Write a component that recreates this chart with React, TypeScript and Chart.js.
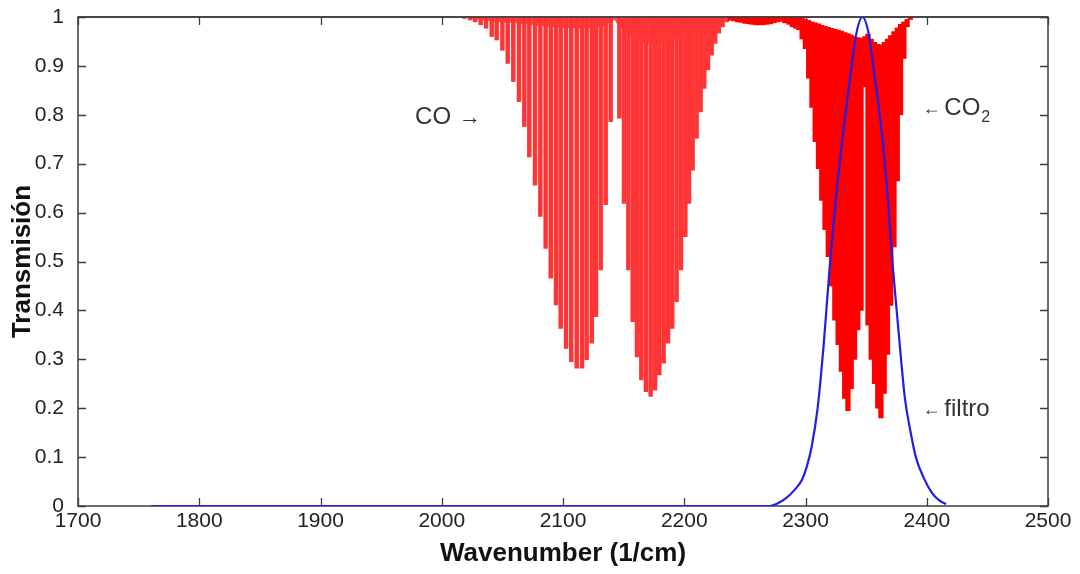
import React, { useEffect, useRef } from 'react';
import { Chart, registerables } from 'chart.js';

Chart.register(...registerables);

// ---- axis ticks ----
const xTickValues = [1700, 1800, 1900, 2000, 2100, 2200, 2300, 2400, 2500];
const xTickLabels = ['1700', '1800', '1900', '2000', '2100', '2200', '2300', '2400', '2500'];
const yTickValues = [0, 0.1, 0.2, 0.3, 0.4, 0.5, 0.6, 0.7, 0.8, 0.9, 1];
const yTickLabels = ['0', '0.1', '0.2', '0.3', '0.4', '0.5', '0.6', '0.7', '0.8', '0.9', '1'];

// ---- CO absorption lines (P branch), position (1/cm) and transmission minimum ----
const coPPos = [2018.6, 2023.3, 2027.4, 2032.1, 2036.5, 2041.2, 2045.3, 2050.0, 2054.4, 2059.0, 2063.7, 2068.1, 2072.2, 2076.9, 2081.3, 2085.7, 2089.9, 2094.2, 2098.1, 2102.5, 2106.8, 2111.3, 2115.7, 2119.5, 2123.7, 2127.2, 2131.1, 2135.2, 2139.3];
const coPMin = [0.997, 0.994, 0.99, 0.984, 0.977, 0.96, 0.953, 0.932, 0.905, 0.868, 0.827, 0.776, 0.714, 0.656, 0.592, 0.527, 0.466, 0.411, 0.363, 0.322, 0.295, 0.282, 0.282, 0.299, 0.333, 0.387, 0.483, 0.616, 0.786];

// ---- CO absorption lines (R branch) ----
const coRPos = [2146.5, 2150.3, 2153.9, 2157.5, 2161.0, 2164.6, 2168.4, 2172.3, 2175.9, 2179.4, 2183.0, 2186.6, 2190.1, 2193.7, 2197.3, 2200.9, 2203.9, 2206.9, 2210.2, 2213.5, 2216.5, 2219.6, 2222.6, 2225.6, 2228.6, 2231.6, 2235.0];
const coRMin = [0.793, 0.619, 0.483, 0.377, 0.305, 0.258, 0.234, 0.224, 0.237, 0.268, 0.292, 0.333, 0.363, 0.418, 0.483, 0.551, 0.619, 0.687, 0.752, 0.806, 0.854, 0.892, 0.922, 0.946, 0.967, 0.98, 0.99];

// ---- CO between-line transmission (overlapping wings near the top) ----
const coContX = [2015, 2040, 2070, 2100, 2125, 2139, 2142, 2145, 2160, 2175, 2195, 2215, 2238];
const coContY = [1, 0.992, 0.985, 0.978, 0.978, 0.988, 0.995, 0.985, 0.955, 0.945, 0.958, 0.985, 1];

// ---- CO2 band: line positions, lower and upper transmission ----
const co2Pos = [2238, 2241, 2244, 2247, 2250, 2253, 2256, 2259, 2262, 2265, 2268, 2271, 2274, 2277, 2280, 2283,
  2286.4, 2289.1, 2291.8, 2294.5, 2297.2, 2299.9, 2302.6, 2305.3, 2308, 2310.7, 2313.4, 2316.1, 2318.8, 2321.5, 2324.2, 2326.9, 2329.6, 2332.3, 2335, 2337.7, 2340.4, 2343.1, 2345.8,
  2349,
  2351.5, 2354.2, 2356.9, 2359.6, 2362.2, 2364.9, 2367.6, 2370.3, 2373, 2375.7, 2378.4, 2381.1, 2383.8, 2386.5];
const co2Min = [0.993, 0.992, 0.99, 0.989, 0.987, 0.986, 0.985, 0.984, 0.984, 0.984, 0.985, 0.986, 0.988, 0.99, 0.991, 0.988,
  0.985, 0.98, 0.977, 0.974, 0.955, 0.935, 0.875, 0.815, 0.745, 0.69, 0.625, 0.565, 0.51, 0.45, 0.38, 0.33, 0.275, 0.22, 0.195, 0.24, 0.3, 0.36, 0.4,
  0.857,
  0.37, 0.3, 0.25, 0.2, 0.18, 0.23, 0.31, 0.41, 0.53, 0.665, 0.8, 0.915, 0.98, 0.995];
const co2Max = [1, 1, 1, 1, 1, 1, 1, 1, 1, 1, 1, 1, 1, 1, 1, 1,
  1, 1, 1, 1, 1, 0.995, 0.993, 0.99, 0.988, 0.986, 0.983, 0.981, 0.979, 0.977, 0.975, 0.973, 0.971, 0.968, 0.966, 0.963, 0.96, 0.958, 0.957,
  0.96,
  0.965, 0.955, 0.948, 0.944, 0.943, 0.948, 0.955, 0.962, 0.97, 0.978, 0.985, 0.99, 0.995, 1];

// ---- filter transmission ----
const filterX = [1760, 2270, 2276, 2284, 2291, 2297, 2301, 2305, 2310, 2315, 2320, 2325, 2331, 2338, 2342, 2347, 2352, 2356, 2363, 2368, 2372, 2377, 2382, 2386, 2391, 2398, 2404, 2410, 2416];
const filterY = [0, 0, 0.004, 0.016, 0.033, 0.053, 0.08, 0.12, 0.2, 0.33, 0.49, 0.626, 0.762, 0.898, 0.967, 1.0, 0.967, 0.898, 0.762, 0.626, 0.49, 0.35, 0.22, 0.16, 0.1, 0.055, 0.028, 0.012, 0.004];

const FONT = '"Liberation Sans", Arial, Helvetica, sans-serif';

const framePlugin = {
  id: 'frameTicks',
  beforeDatasetsDraw(chart: any) {
    const { ctx, chartArea: a, scales } = chart;
    const x = scales.x;
    const y = scales.y;
    ctx.save();
    ctx.strokeStyle = '#3c3c3c';
    ctx.lineWidth = 1.5;
    ctx.strokeRect(a.left, a.top, a.right - a.left, a.bottom - a.top);
    ctx.lineWidth = 1.3;
    const L = 8;
    ctx.beginPath();
    for (const v of xTickValues) {
      const px = Math.round(x.getPixelForValue(v)) + 0.5;
      ctx.moveTo(px, a.bottom);
      ctx.lineTo(px, a.bottom - L);
      ctx.moveTo(px, a.top);
      ctx.lineTo(px, a.top + L);
    }
    for (const v of yTickValues) {
      const py = Math.round(y.getPixelForValue(v)) + 0.5;
      ctx.moveTo(a.left, py);
      ctx.lineTo(a.left + L, py);
      ctx.moveTo(a.right, py);
      ctx.lineTo(a.right - L, py);
    }
    ctx.stroke();
    ctx.restore();
  },
  afterDatasetsDraw(chart: any) {
    const { ctx, chartArea: a, scales } = chart;
    const x = scales.x;
    const y = scales.y;
    ctx.save();
    ctx.strokeStyle = '#3c3c3c';
    ctx.lineWidth = 1.5;
    ctx.beginPath();
    ctx.moveTo(a.left, a.top);
    ctx.lineTo(a.right, a.top);
    ctx.stroke();

    ctx.fillStyle = '#333';
    ctx.textBaseline = 'middle';
    ctx.textAlign = 'left';
    // CO label
    let px = x.getPixelForValue(1978);
    let py = y.getPixelForValue(0.795);
    ctx.font = `24px ${FONT}`;
    ctx.fillText('CO', px, py);
    const w = ctx.measureText('CO').width;
    ctx.font = `22px ${FONT}`;
    ctx.fillText('→', px + w + 8, py + 1);
    // CO2 label
    px = x.getPixelForValue(2396.5);
    py = y.getPixelForValue(0.814);
    ctx.font = `18px ${FONT}`;
    ctx.fillText('←', px, py + 1);
    const px2 = x.getPixelForValue(2414.5);
    ctx.font = `24px ${FONT}`;
    ctx.fillText('CO', px2, py);
    const w2 = ctx.measureText('CO').width;
    ctx.font = `16px ${FONT}`;
    ctx.fillText('2', px2 + w2 + 1, py + 10);
    // filtro label
    py = y.getPixelForValue(0.198);
    ctx.font = `18px ${FONT}`;
    ctx.fillText('←', px, py + 1);
    ctx.font = `24px ${FONT}`;
    ctx.fillText('filtro', px2, py);
    ctx.restore();
  },
};

export default function App() {
  const ref = useRef<HTMLCanvasElement>(null);
  useEffect(() => {
    const coBars = [
      ...coPPos.map((p, i) => ({ x: p, y: [coPMin[i], 1] })),
      ...coRPos.map((p, i) => ({ x: p, y: [coRMin[i], 1] })),
    ];
    const co2Bars = co2Pos.map((p, i) => ({ x: p, y: [co2Min[i], co2Max[i]] }));
    const coCont = coContX.map((p, i) => ({ x: p, y: coContY[i] }));
    const filter = filterX.map((p, i) => ({ x: p, y: filterY[i] }));

    const chart = new Chart(ref.current as HTMLCanvasElement, {
      type: 'bar',
      data: {
        datasets: [
          {
            type: 'line',
            label: 'filtro',
            data: filter as any,
            borderColor: '#1f1fe8',
            borderWidth: 2.2,
            pointRadius: 0,
            cubicInterpolationMode: 'monotone',
            fill: false,
            order: 0,
          } as any,
          {
            type: 'bar',
            label: 'CO2',
            data: co2Bars as any,
            backgroundColor: '#ff0000',
            borderWidth: 0,
            barThickness: 4.6,
            grouped: false,
            order: 1,
          } as any,
          {
            type: 'bar',
            label: 'CO',
            data: coBars as any,
            backgroundColor: '#ff3434',
            borderWidth: 0,
            barThickness: 3.8,
            grouped: false,
            order: 2,
          } as any,
          {
            type: 'line',
            label: 'CO wings',
            data: coCont as any,
            borderWidth: 0,
            borderColor: 'rgba(0,0,0,0)',
            backgroundColor: '#ff4a4a',
            pointRadius: 0,
            tension: 0.4,
            fill: { value: 1 },
            order: 3,
          } as any,
        ],
      },
      options: {
        animation: false,
        responsive: false,
        devicePixelRatio: 1,
        layout: { padding: { top: 17, right: 32, left: 0, bottom: 0 } },
        plugins: { legend: { display: false }, tooltip: { enabled: false } },
        scales: {
          x: {
            type: 'linear',
            min: 1700,
            max: 2500,
            offset: false,
            grid: { display: false, drawTicks: false },
            border: { display: false },
            afterBuildTicks: (s: any) => {
              s.ticks = xTickValues.map((v) => ({ value: v }));
            },
            afterFit: (s: any) => {
              s.height = 68;
              s.paddingLeft = 0;
              s.paddingRight = 0;
              s.paddingTop = 0;
              s.paddingBottom = 0;
            },
            ticks: {
              autoSkip: false,
              maxRotation: 0,
              padding: 3,
              color: '#222',
              font: { family: FONT, size: 21 },
              callback: (_v: any, i: number) => xTickLabels[i],
            },
            title: {
              display: true,
              text: 'Wavenumber (1/cm)',
              color: '#111',
              font: { family: FONT, size: 26, weight: 'bold' },
              padding: { top: 0, bottom: 5 },
            },
          },
          y: {
            type: 'linear',
            min: 0,
            max: 1,
            grid: { display: false, drawTicks: false },
            border: { display: false },
            afterBuildTicks: (s: any) => {
              s.ticks = yTickValues.map((v) => ({ value: v }));
            },
            afterFit: (s: any) => {
              s.width = 78;
              s.paddingLeft = 0;
              s.paddingRight = 0;
              s.paddingTop = 0;
              s.paddingBottom = 0;
            },
            ticks: {
              autoSkip: false,
              padding: 14,
              color: '#222',
              font: { family: FONT, size: 21 },
              callback: (_v: any, i: number) => yTickLabels[i],
            },
            title: {
              display: true,
              text: 'Transmisión',
              color: '#111',
              font: { family: FONT, size: 26, weight: 'bold' },
              padding: { top: 7, bottom: 0 },
            },
          },
        },
      },
      plugins: [framePlugin],
    } as any);
    return () => chart.destroy();
  }, []);

  return (
    <div style={{ position: 'absolute', left: 0, top: 0, width: 1080, height: 574, background: '#fff' }}>
      <canvas ref={ref} width={1080} height={574} style={{ display: 'block', width: 1080, height: 574 }} />
    </div>
  );
}
